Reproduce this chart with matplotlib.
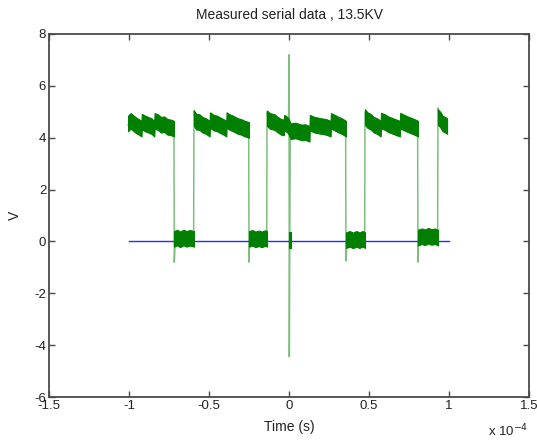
import matplotlib
matplotlib.use('Agg')
import matplotlib.pyplot as plt

plt.rcParams['font.family'] = ['Liberation Sans', 'DejaVu Sans']
plt.rcParams['axes.unicode_minus'] = False

SCALE = 1e-5  # all times below are in units of 1e-5 s

# thin trace: edges, overshoots and the spike at t = 0
trace_t = [-10.06, -7.19, -7.17, -7.10, -5.96, -5.94, -5.85, -2.52, -2.50, -2.45,
           -1.39, -1.375, -1.30, -0.03, -0.01, 0.0, 0.02, 0.05, 0.08, 3.54,
           3.56, 3.60, 4.73, 4.75, 4.85, 8.04, 8.06, 8.10, 9.29, 9.31, 9.40, 9.88]
trace_v = [4.5, 4.35, -0.8, 0.1, 0.1, 5.05, 4.7, 4.3, -0.8, 0.1,
           0.1, 5.0, 4.7, 4.4, 6.0, 7.2, -4.45, 0.2, 4.3, 4.35,
           -0.75, 0.05, 0.05, 5.0, 4.7, 4.35, -0.8, 0.15, 0.15, 5.15, 4.7, 4.45]

# noisy plateaus (centre of the band)
high1_t = [-10.06, -9.9, -9.8, -9.6, -9.4, -9.22, -9.2, -9.0, -8.8, -8.6, -8.42,
           -8.4, -8.2, -8.0, -7.8, -7.6, -7.4, -7.19]
high1_v = [4.55, 4.65, 4.6, 4.5, 4.42, 4.35, 4.62, 4.55, 4.5, 4.45, 4.35,
           4.65, 4.6, 4.5, 4.52, 4.42, 4.4, 4.35]
high2_t = [-5.94, -5.8, -5.6, -5.4, -5.2, -4.96, -4.94, -4.7, -4.5, -4.3, -4.1,
           -3.92, -3.9, -3.7, -3.5, -3.2, -3.0, -2.8, -2.5]
high2_v = [4.75, 4.62, 4.6, 4.5, 4.45, 4.35, 4.68, 4.58, 4.55, 4.48, 4.42,
           4.35, 4.68, 4.6, 4.55, 4.45, 4.42, 4.36, 4.3]
high3_t = [-1.375, -1.2, -0.9, -0.7, -0.5, -0.32, -0.3, -0.1, 0.0, 0.1, 0.4, 0.8,
           1.0, 1.28, 1.3, 1.6, 2.0, 2.3, 2.6, 2.62, 2.8, 3.1, 3.3, 3.56]
high3_v = [4.75, 4.65, 4.6, 4.5, 4.42, 4.4, 4.58, 4.5, 4.4, 4.25, 4.28, 4.2,
           4.22, 4.15, 4.58, 4.5, 4.45, 4.42, 4.35, 4.65, 4.6, 4.5, 4.45, 4.35]
high4_t = [4.75, 4.9, 5.1, 5.3, 5.5, 5.73, 5.75, 6.0, 6.2, 6.5, 6.7, 6.93, 6.95,
           7.2, 7.5, 7.7, 7.9, 8.06]
high4_v = [4.8, 4.68, 4.62, 4.5, 4.45, 4.35, 4.66, 4.6, 4.52, 4.45, 4.4, 4.35, 4.66,
           4.58, 4.5, 4.45, 4.4, 4.35]
high5_t = [9.31, 9.45, 9.6, 9.75, 9.88]
high5_v = [4.8, 4.7, 4.55, 4.5, 4.45]

low1_t = [-7.19, -7.0, -6.8, -6.6, -6.4, -6.2, -5.94]
low1_v = [0.1, 0.15, 0.08, 0.15, 0.1, 0.14, 0.1]
low2_t = [-2.5, -2.3, -2.1, -1.9, -1.7, -1.5, -1.375]
low2_v = [0.1, 0.14, 0.08, 0.12, 0.08, 0.13, 0.1]
low3_t = [0.0, 0.12]
low3_v = [0.05, 0.05]
low4_t = [3.56, 3.8, 4.0, 4.2, 4.4, 4.6, 4.75]
low4_v = [0.05, 0.1, 0.04, 0.1, 0.05, 0.1, 0.05]
low5_t = [8.06, 8.3, 8.5, 8.7, 8.9, 9.1, 9.31]
low5_v = [0.15, 0.2, 0.16, 0.22, 0.17, 0.2, 0.15]

ref_t = [-10.0, 10.0]
ref_v = [0.0, 0.0]

x_ticks = [-1.5, -1, -0.5, 0, 0.5, 1, 1.5]
x_tick_labels = ['-1.5', '-1', '-0.5', '0', '0.5', '1', '1.5']
y_ticks = [-6, -4, -2, 0, 2, 4, 6, 8]

GREEN = '#007f00'
AXCOL = '#4a4a4a'
TXT = '#222222'

fig = plt.figure(figsize=(5.37, 4.41), dpi=100)
ax = fig.add_axes([49 / 537, 1 - 397 / 441, 480 / 537, 363 / 441])

ax.plot([t * SCALE for t in ref_t], ref_v, color='#2a2aff', lw=1.0, zorder=1)

hw = 0.3
for ts, vs in [(high1_t, high1_v), (high2_t, high2_v), (high3_t, high3_v),
               (high4_t, high4_v), (high5_t, high5_v),
               (low1_t, low1_v), (low2_t, low2_v), (low3_t, low3_v),
               (low4_t, low4_v), (low5_t, low5_v)]:
    tt = [t * SCALE for t in ts]
    ax.fill_between(tt, [v - hw for v in vs], [v + hw for v in vs],
                    color=GREEN, lw=0.8, edgecolor=GREEN, zorder=3)

ax.plot([t * SCALE for t in trace_t], trace_v, color=GREEN, lw=1.1, alpha=0.5, zorder=2)

ax.set_xlim(-1.5e-4, 1.5e-4)
ax.set_ylim(-6, 8)
ax.set_xticks([x * 1e-4 for x in x_ticks])
ax.set_xticklabels(x_tick_labels)
ax.set_yticks(y_ticks)

ax.tick_params(direction='in', length=4, width=1, colors=AXCOL, labelcolor=TXT,
               labelsize=9.5, top=True, right=True, pad=2)
for s in ax.spines.values():
    s.set_color(AXCOL)
    s.set_linewidth(1.3)

ax.set_xlabel('Time (s)', fontsize=10, color=TXT, labelpad=6)
ax.set_ylabel('V', fontsize=10, color=TXT, labelpad=9)
ax.set_title('Measured serial data , 13.5KV', fontsize=10, color=TXT, pad=11)
fig.text(488 / 537, 1 - 436 / 441, r'x 10$^{-4}$', fontsize=9.5, color=TXT)

fig.savefig('out.png', dpi=100)
